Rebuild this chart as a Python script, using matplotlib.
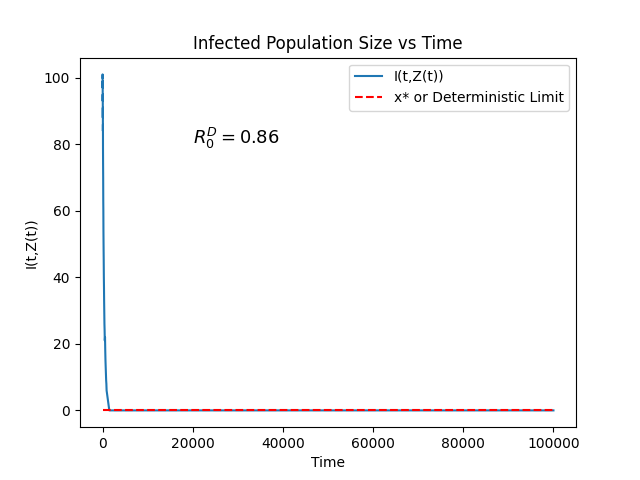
import matplotlib

matplotlib.use("Agg")
import matplotlib.pyplot as plt

# stochastic path of the infected count
times = [0, 10, 20, 30, 40, 50, 60, 70, 80, 90, 100, 120, 140, 160, 180, 200,
         230, 260, 290, 320, 350, 380, 420, 460, 500, 550, 600, 650, 700,
         750, 800, 850, 900, 1000, 1100, 1200, 1300, 1400, 1500, 100000]
infected = [100, 101, 97, 99, 93, 95, 88, 91, 84, 86, 79, 74, 70, 63, 60, 54,
            49, 45, 40, 37, 33, 30, 26, 24, 21, 22, 18, 15, 13,
            11, 9, 8, 6, 5, 4, 3, 2, 1, 0, 0]

limit_t = [0, 100000]
limit_x = [0, 0]
r0_label = r"$R_0^D = 0.86$"

fig, ax = plt.subplots(figsize=(6.4, 4.8), dpi=100)
ax.plot(times, infected, label="I(t,Z(t))")
ax.plot(limit_t, limit_x, "r--", label="x* or Deterministic Limit")
ax.text(20000, 80, r0_label, fontsize=13)
ax.set_title("Infected Population Size vs Time")
ax.set_xlabel("Time")
ax.set_ylabel("I(t,Z(t))")
ax.legend(loc="upper right")
plt.savefig("out.png")
